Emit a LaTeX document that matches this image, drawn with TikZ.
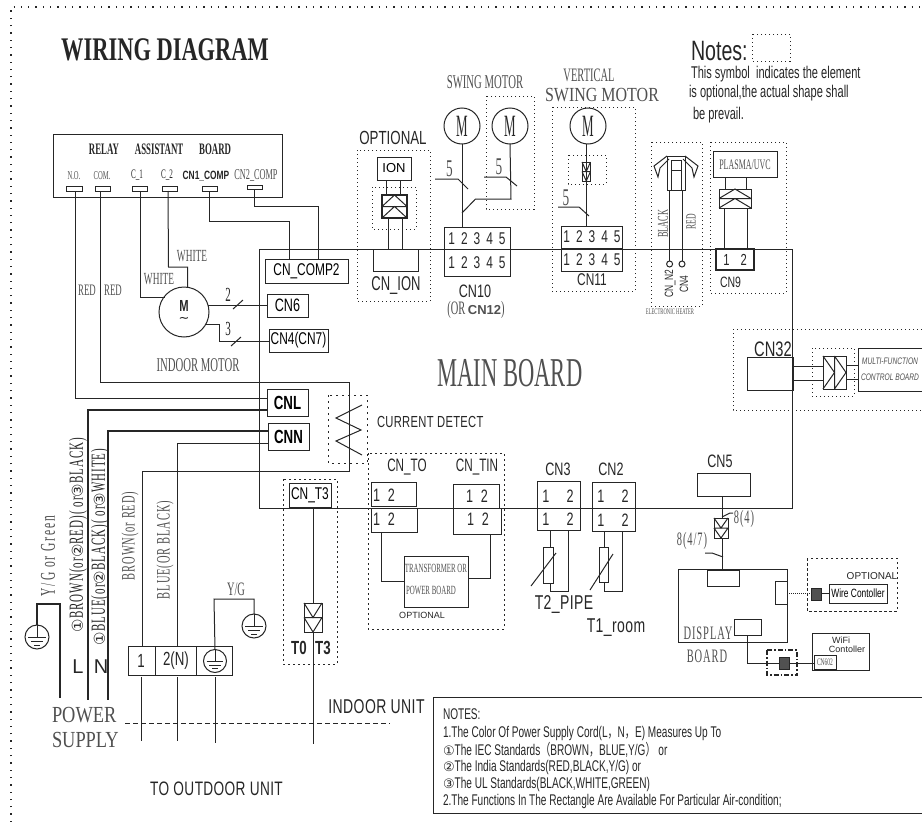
\documentclass[tikz,border=0pt]{standalone}
\usepackage{fontspec}
\newfontfamily\mo[FakeStretch=.55]{Liberation Serif}
\newfontfamily\mos[FakeStretch=.55,LetterSpace=9]{Liberation Serif}
\newfontfamily\mot[FakeStretch=.55,LetterSpace=5]{Liberation Serif}
\newfontfamily\mt[FakeStretch=.42]{Liberation Serif}
\newfontfamily\mow[FakeStretch=.8]{Liberation Serif}
\newfontfamily\ttl[FakeStretch=.68]{Liberation Serif}
\newfontfamily\sa{Liberation Sans}
\newfontfamily\san[FakeStretch=.7]{Liberation Sans}
\newfontfamily\sann[FakeStretch=.65]{Liberation Sans}
\newfontfamily\sal[FakeStretch=.7,LetterSpace=2]{Liberation Sans}
\newfontfamily\ci{DejaVu Sans}
\newfontfamily\cjk[FakeStretch=.65]{Noto Sans CJK SC}
\newcommand\fsz[1]{\fontsize{#1}{#1}\selectfont}
\definecolor{ink}{HTML}{262626}
\definecolor{gt}{HTML}{505050}
\usetikzlibrary{calc}
\tikzset{
 wire/.style={draw=ink,line width=1pt},
 fat/.style={draw=ink,line width=2pt},
 box/.style={draw=ink,line width=1pt,inner sep=0pt,outer sep=0pt,anchor=north west},
 opt/.style={draw=ink,line width=1pt,dash pattern=on 1pt off 3pt},
 txt/.style={inner sep=0pt,outer sep=0pt,text=ink},
 gtxt/.style={inner sep=0pt,outer sep=0pt,text=gt},
 ring/.style={draw=ink,line width=1pt,circle,inner sep=0pt,outer sep=0pt},
}
\newcommand\B[7][]{\node[box,minimum width={(#5-#3)*1pt},minimum height={(#6-#4)*1pt},#1] (#2) at (#3,#4) {#7};}
\newcommand\T[5][]{\node[txt,#1] (#2) at (#3,#4) {#5};}
\newcommand\G[5][]{\node[gtxt,#1] (#2) at (#3,#4) {#5};}
\newcommand\chevU[1]{\draw[wire] (#1.west)--(#1.east) (#1.west)--(#1.north)--(#1.east) (#1.south west)--(#1.center)--(#1.south east);}
\newcommand\chevD[1]{\draw[wire] (#1.west)--(#1.east) (#1.north west)--(#1.center)--(#1.north east) (#1.west)--(#1.south)--(#1.east);}
\newcommand\chevR[1]{\draw[wire] (#1.north)--(#1.south) (#1.north west)--(#1.center)--(#1.south west) (#1.north)--(#1.east)--(#1.south);}
\newcommand\EARTH[4]{\node[ring,minimum size=#4 pt] (#1) at (#2,#3) {};
 \draw[wire] (#1.north)--(#1.center);
 \draw[wire] ($(#1.center)+(-.36*#4,0)$)--($(#1.center)+(.36*#4,0)$);
 \draw[wire] ($(#1.center)+(-.24*#4,.18*#4)$)--($(#1.center)+(.24*#4,.18*#4)$);
 \draw[wire] ($(#1.center)+(-.12*#4,.34*#4)$)--($(#1.center)+(.12*#4,.34*#4)$);}
\begin{document}
\begin{tikzpicture}[x=1pt,y=-1pt]
\useasboundingbox (0,0) rectangle (922,822);
% page border
\coordinate (bl) at (11,822); \coordinate (tl) at (11,7); \coordinate (tr) at (922,7);
\draw[opt,line width=1.3pt,dash pattern=on 1.3pt off 6pt] (bl)--(tl)--(tr);
% titles
\T{title}{165}{50}{\ttl\bfseries\fsz{33}WIRING DIAGRAM}
\T[anchor=west]{notes}{691}{51}{\san\fsz{28}Notes:}
\T[anchor=west]{n1}{691}{74}{\sann\fsz{17}This symbol\ \ indicates the element}
\T[anchor=west]{n2}{689}{93}{\sann\fsz{17}is optional,the actual shape shall}
\T[anchor=west]{n3}{693}{115}{\sann\fsz{17}be prevail.}
\draw[opt] (752,34) rectangle (790,61);
% relay board
\B{relay}{53}{134}{282}{197}{}
\T{relayt}{160}{149}{\mo\bfseries\fsz{16}RELAY\quad ASSISTANT\quad BOARD}
\G{lno}{74}{176}{\mo\fsz{12}N.O.}
\G{lcom}{102}{176}{\mo\fsz{12}COM.}
\T{lc1}{137}{175}{\mo\fsz{13}C\_1}
\T{lc2}{167}{175}{\mo\fsz{13}C\_2}
\T{lcn1}{206}{176}{\san\bfseries\fsz{12}CN1\_COMP}
\G{lcn2}{256}{175}{\mo\fsz{15}CN2\_COMP}
\B{no}{66}{186}{82}{191}{}
\B{com}{95}{186}{110}{191}{}
\B{ca}{132}{186}{147}{191}{}
\B{cb}{162}{186}{177}{191}{}
\B{cna}{202}{186}{217}{191}{}
\B{cnb}{247}{185}{262}{189}{}
% main board
\B{main}{259}{249}{792}{508}{}
\G{mainl}{510}{373}{\mo\fsz{41}MAIN BOARD}
% main connectors
\B[font=\san\fsz{17}]{comp}{265}{259}{348}{283}{CN\_COMP2}
\B[font=\san\fsz{18}]{cnsix}{267}{294}{308}{317}{CN6}
\B[font=\san\fsz{17}]{cnfour}{269}{329}{328}{352}{CN4(CN7)}
\B[font=\san\bfseries\fsz{19}]{cnl}{267}{389}{308}{416}{CNL}
\B[font=\san\bfseries\fsz{19}]{cnn}{268}{423}{309}{450}{CNN}
% indoor motor
\node[ring,minimum size=50pt] (imot) at (184,312) {};
\T{imm}{184}{306}{\san\bfseries\fsz{16}M}
\T{imt}{184}{320}{\ci\fsz{13}∼}
\coordinate (im2) at (208,305); \coordinate (im3) at (206,324);
\coordinate (imc) at (165,297); \coordinate (imd) at (187.5,287);
\draw[wire] (im2)--(cnsix.west |- im2);
\draw[wire] (im3)-|(219,341)--(cnfour.west |- 219,341);
\draw[wire] (233,309)--(243,300) (231,346)--(241,337);
\T{lab2}{228}{295}{\mo\fsz{20}2}
\T{lab3}{228}{329}{\mo\fsz{20}3}
\G{lwa}{192}{256}{\mo\fsz{17}WHITE}
\G{lwb}{159}{279}{\mo\fsz{17}WHITE}
\G{lra}{87}{290}{\mo\fsz{16}RED}
\G{lrb}{113}{290}{\mo\fsz{16}RED}
\G{limo}{198}{365}{\mo\fsz{19.5}INDOOR MOTOR}
\draw[wire] (no.south -| 75,0)--(75,398)--(cnl.west |- 75,398);
\draw[wire] (com.south -| 100,0)--(100,382)-|(349,471)-|(142,646);
\draw[wire] (ca.south -| 140.5,0)|-(imc);
\draw[wire] (cb.south -| 168,0)--(168.5,267)-|(imd);
\draw[wire] (cna.south -| 209,0)--(209,221)-|(comp.north -| 289,0);
\draw[wire] (cnb.south -| 254,0)--(254,206)-|(comp.north -| 318,0);
% ION
\T{optl}{393}{138}{\san\fsz{19}OPTIONAL}
\draw[opt] (357,150) rectangle (430,301);
\B[font=\sa\fsz{13}]{ion}{377}{157}{411}{180}{ION}
\draw[opt] (372,187) rectangle (416,229);
\B[line width=1.6pt]{ionc}{382}{195}{407}{218}{}
\chevU{ionc}
\B{cnion}{373}{249}{418}{271}{}
\T{lion}{396}{286}{\sann\fsz{20}CN\_ION}
\draw[wire] (386,180)--(386,195) (400,180)--(400,195) (388,218)--(388,249) (402,218)--(402,249);
% swing motor
\G{lsw}{485}{82}{\mo\fsz{19.5}SWING MOTOR}
\node[ring,minimum size=36pt] (ma) at (462,126) {};
\node[ring,minimum size=36pt] (mb) at (510,126) {};
\T{mat}{462}{126}{\mt\fsz{31}M}
\T{mbt}{510}{126}{\mt\fsz{31}M}
\draw[opt] (486,96) rectangle (534,209);
\B{tena}{444}{227}{510}{249}{}
\B{tenb}{444}{249}{510}{276}{}
\T{tenat}{477}{239}{\san\fsz{17}1\hspace{6pt}2\hspace{6pt}3\hspace{6pt}4\hspace{6pt}5}
\T{tenbt}{477}{263}{\san\fsz{17}1\hspace{6pt}2\hspace{6pt}3\hspace{6pt}4\hspace{6pt}5}
\draw[wire] (ma.south)--(tena.north -| ma.south);
\draw[wire] (mb.south)--(511,199)--(475.5,199)--(462,213);
\G{lfa}{449.5}{169}{\mo\fsz{24}5}
\G{lfb}{499}{167}{\mo\fsz{24}5}
\draw[wire] (435,179)--(458,179)--(468,189);
\draw[wire] (484,177)--(506,177)--(517,186);
\T{lcten}{475}{291}{\san\fsz{18}CN10}
\G{lcor}{476}{310}{\mo\fsz{19}(OR {\sa\bfseries\fsz{13}CN12})}
% vertical swing
\G{lve}{589}{75}{\mo\fsz{19}VERTICAL}
\G{lvs}{602}{95}{\mow\fsz{20}SWING MOTOR}
\draw[opt] (552,107) rectangle (635,291);
\node[ring,minimum size=36pt] (mc) at (588,126) {};
\T{mct}{588}{126}{\mt\fsz{31}M}
\draw[opt] (568,155) rectangle (606,184);
\B{vc}{582}{162}{590.5}{181}{}
\chevD{vc}
\B{ela}{561}{226}{622}{248}{}
\B{elb}{561}{248}{622}{271}{}
\T{elat}{592}{237}{\san\fsz{17}1\hspace{6pt}2\hspace{6pt}3\hspace{6pt}4\hspace{6pt}5}
\T{elbt}{592}{260}{\san\fsz{17}1\hspace{6pt}2\hspace{6pt}3\hspace{6pt}4\hspace{6pt}5}
\T{lcel}{592}{280}{\san\fsz{17}CN11}
\draw[wire] (586.5,144)--(586.5,226);
\G{lfc}{566}{198}{\mo\fsz{24}5}
\draw[wire] (558,207)--(579,207)--(589,216);
% heater
\draw[opt] (651,142) rectangle (702,306);
\draw[wire] (667,190)--(667,156)--(685,156)--(685,190)--cycle;
\draw[wire] (671.5,190)--(671.5,160)--(681,160)--(681,190);
\draw[wire] (671.5,170)--(681,170);
\draw[wire] (667,156)--(654,166)--(658,177)--(660,168)--(669,159);
\draw[wire] (685,156)--(698,166)--(694,177)--(692,168)--(683,159);
\node[ring,minimum size=6pt] (hn) at (669.6,264) {};
\node[ring,minimum size=6pt] (hf) at (682,264) {};
\draw[wire] (669.6,190)--(hn.north);
\draw[wire] (682,190)--(hf.north);
\G[rotate=90]{lblk}{663}{224}{\mo\fsz{15}BLACK}
\G[rotate=90]{lred}{691}{222}{\mo\fsz{14}RED}
\T[rotate=90]{lcn}{670}{284}{\san\fsz{12}CN\_N2}
\T[rotate=90]{lfo}{684}{284}{\san\fsz{12}CN4}
\G{lhe}{670}{312}{\mo\fsz{8.5}ELECTRONIC HEATER}
% plasma
\draw[opt] (710,142) rectangle (786,293);
\B{pl}{713}{151}{777}{177}{}
\G{plt}{745}{165}{\mo\fsz{14.5}PLASMA/UVC}
\B{plc}{719}{189}{751}{208}{}
\chevU{plc}
\draw[wire] (725,177)--(725,189) (746.5,177)--(746.5,189) (724,208)--(724,249) (747.5,208)--(747.5,249);
\B[line width=1.5pt]{cnine}{716}{249}{754}{270}{}
\T{cninet}{735}{260}{\san\fsz{16}1\hspace{11pt}2}
\T{lcn9}{730.5}{282}{\san\fsz{15}CN9}
% CN32
\draw[opt] (733,329)--(922,329) (733,329)--(733,410)--(922,410);
\B{cnth}{747}{357}{793}{390}{}
\T{lcth}{773}{349}{\san\fsz{21}CN32}
\draw[opt] (812,348) rectangle (854,396);
\B{mfc}{823}{356}{846}{389}{}
\chevR{mfc}
\draw[wire] (793,366)--(823,366) (793,380)--(823,380) (846,365)--(858,365) (846,379)--(858,379);
\B{mfb}{858}{348}{923}{391}{}
\G{mfa}{890}{361}{\san\itshape\fsz{9.5}MULTI-FUNCTION}
\G{mfd}{890}{377}{\san\itshape\fsz{9.5}CONTROL BOARD}
% CN5 and display
\T{lcf}{720}{461}{\san\fsz{18}CN5}
\B{cnf}{697}{473}{750}{496}{}
\B{dc}{714}{518}{728}{538}{}
\chevD{dc}
\B{disp}{678}{569}{787}{642}{}
\B{da}{707}{570}{739}{586}{}
\B{db}{775}{581}{787}{604}{}
\B{dd}{734}{619}{761}{635}{}
\draw[wire] (722,496)--(722,518);
\draw[wire] (722,538)--(722,569);
\draw[wire] (722,517)--(730,513)--(733,513);
\draw[wire] (705,553)--(712,553)--(723,557);
\G{leia}{744}{519}{\mot\fsz{19}8(4)}
\G{leib}{692}{541}{\mot\fsz{19}8(4/7)}
\G{ldis}{708}{633}{\mot\fsz{19}DISPLAY}
\G{lboa}{707}{656}{\mot\fsz{19}BOARD}
\draw[opt,dash pattern=on 2.5pt off 2.5pt] (807,558) rectangle (897,611);
\T{lop}{872}{576}{\sa\fsz{10}OPTIONAL}
\B[fill=ink!80]{wc}{811}{588}{821}{600}{}
\B[font=\san\fsz{12}]{wcb}{829}{584}{887}{603}{Wire Contoller}
\draw[wire,dash pattern=on 1pt off 1pt] (787,593)--(811,593);
\draw[wire] (821,593)--(829,593);
\draw[wire,dash pattern=on 5pt off 2pt on 1.5pt off 2pt,line width=1.2pt] (767,650) rectangle (797,675);
\B[fill=ink!80]{wfc}{779}{657}{789}{669}{}
\B{wf}{812}{633}{869}{670}{}
\B{cnsx}{814}{655}{836}{669}{}
\G{lcs}{825}{662}{\mo\fsz{10}CN602}
\T{lwf}{841}{640}{\sa\fsz{9}WiFi}
\T{lwcn}{847}{649}{\sa\fsz{9}Contoller}
\draw[wire] (747,635)--(747,663)--(779,663);
\draw[wire] (789,663)--(814,663);
% current detect
\draw[opt,dash pattern=on 2pt off 4pt] (328,395) rectangle (367,463);
\draw[wire] (362,405)--(336,418)--(361,430)--(336,441)--(362,455);
\T[anchor=west]{lcd}{377}{422}{\sal\fsz{16}CURRENT DETECT}
% T3
\draw[opt,dash pattern=on 2pt off 3pt] (283,479) rectangle (337,664);
\B[font=\san\fsz{17}]{cnt}{289}{483}{331}{507}{CN\_T3}
\B{ttc}{304}{603}{322}{632}{}
\chevD{ttc}
\coordinate (ttend) at (313,744);
\draw[wire] (313,507)--(313,603);
\draw[wire] (313,632)--(ttend);
\T{ltz}{299}{648}{\san\bfseries\fsz{19}T0}
\T{ltt}{323}{648}{\san\bfseries\fsz{19}T3}
% CN_TO group
\draw[opt,dash pattern=on 2pt off 3pt] (368,453) rectangle (504,629);
\T{lcto}{407}{467}{\sann\fsz{18}CN\_TO}
\T{lcti}{477}{467}{\sann\fsz{18}CN\_TIN}
\B{toa}{371}{482}{416}{506}{}
\B{tob}{371}{508}{417}{532}{}
\B{tia}{453}{484}{499}{508}{}
\B{tib}{453}{508}{501}{534}{}
\T[anchor=west]{toat}{373}{495}{\san\fsz{18}1\hspace{8pt}2}
\T[anchor=west]{tobt}{373}{519}{\san\fsz{18}1\hspace{8pt}2}
\T[anchor=west]{tiat}{466}{496}{\san\fsz{18}1\hspace{8pt}2}
\T[anchor=west]{tibt}{467}{519}{\san\fsz{18}1\hspace{8pt}2}
\B{trb}{404}{556}{468}{607}{}
\G{trl}{436}{568}{\mo\fsz{12.5}TRANSFORMER OR}
\G[anchor=west]{trm}{406}{590}{\mo\fsz{12.5}POWER BOARD}
\T{top}{422}{615}{\sa\fsz{9}OPTIONAL}
\draw[wire] (381,532)--(381,581)--(trb.west |- 381,581);
\draw[wire] (trb.east |- 490,578)--(490,578)--(490,534);
% CN3 CN2
\T{lct}{558}{469}{\san\fsz{18}CN3}
\T{lcw}{611}{469}{\san\fsz{18}CN2}
\B{cta}{537}{481}{580}{508}{}
\B{ctb}{537}{508}{580}{530}{}
\B{cwa}{592}{482}{635}{508}{}
\B{cwb}{592}{508}{635}{531}{}
\T{ctat}{558}{496}{\san\fsz{18}1\hspace{17pt}2}
\T{ctbt}{558}{519}{\san\fsz{18}1\hspace{17pt}2}
\T{cwat}{613}{496}{\san\fsz{18}1\hspace{17pt}2}
\T{cwbt}{613}{520}{\san\fsz{18}1\hspace{17pt}2}
\B{rt}{543}{547}{553}{583}{}
\B{rw}{599}{547}{608}{582}{}
\draw[wire] (550,530)--(550,547) (550,583)--(550,591)-|(568,530);
\draw[wire] (604,531)--(604,547) (604,582)--(604,591)-|(622,531);
\draw[wire] (531,586)--(556,553) (590,590)--(613,554);
\T{ltp}{564}{604}{\sal\fsz{20}T2\_PIPE}
\T{ltr}{616}{628}{\sal\fsz{20}T1\_room}
% power lines
\draw[wire] (cnn.west |- 177,443)--(177,443)--(177,646);
\draw[fat] (cnl.west |- 88,410)--(88,410)--(88,700);
\draw[fat] (cnn.west |- 108,431)--(108,431)--(108,700);
\B{tm}{128}{646}{155}{675}{}
\B{tn}{155}{646}{196}{675}{}
\B{te}{196}{646}{232}{675}{}
\T{tmt}{141}{661}{\san\fsz{19}1}
\T{tnt}{176}{661}{\san\fsz{19}2(N)}
\EARTH{ea}{215}{661}{23}
\EARTH{eb}{254}{626}{24}
\EARTH{ec}{37}{637}{24}
\draw[wire] (ea.north)--(214,599)-|(eb.north);
\draw[fat] (ec.north)--(37,604)--(59.5,604)--(59.5,698);
\coordinate (ta) at (141.5,741); \coordinate (tb) at (177,741); \coordinate (tc) at (215,743);
\draw[wire] (141.5,677)--(ta) (177,677)--(tb) (215,677)--(tc);
\G{lyg}{236}{589}{\mo\fsz{19}Y/G}
\G[rotate=90]{lgr}{48}{556}{\mos\fsz{21}Y/G or Green}
\T[rotate=90]{lbr}{78}{535}{\mot\fsz{20}{\ci\fsz{15}①}BROWN(or{\ci\fsz{15}②}RED)( or{\ci\fsz{15}③}BLACK)}
\T[rotate=90]{lbl}{100}{547}{\mot\fsz{20}{\ci\fsz{15}①}BLUE(or{\ci\fsz{15}②}BLACK)( or{\ci\fsz{15}③}WHITE)}
\G[rotate=90]{lbn}{130}{536}{\mot\fsz{19}BROWN(or RED)}
\G[rotate=90]{lbb}{165}{550}{\mot\fsz{19}BLUE(OR BLACK)}
\T{ll}{78}{667}{\sa\fsz{20}L}
\T{ln}{101}{667}{\sa\fsz{20}N}
\G[anchor=west]{lps}{52}{715}{\mow\fsz{23}POWER}
\G[anchor=west]{lsp}{52}{740}{\mow\fsz{23}SUPPLY}
\coordinate (da) at (125,723); \coordinate (db) at (390,723);
\draw[wire,dash pattern=on 5pt off 3pt] (da)--(db);
\T{liu}{376.5}{707}{\sal\fsz{20}INDOOR UNIT}
\T{lou}{216.5}{789}{\sal\fsz{19.5}TO OUTDOOR UNIT}
% notes box
\B{nbox}{433}{697}{923}{813}{}
\T[anchor=west]{na}{443}{714}{\sann\fsz{15.5}NOTES:}
\T[anchor=west]{nb}{443}{733}{\sann\fsz{15.5}1.The Color Of Power Supply Cord(L{\cjk ，}N{\cjk ，}E) Measures Up To}
\T[anchor=west]{nc}{443}{750}{\sann\fsz{15.5}{\ci\fsz{13}①}The IEC Standards{\cjk （}BROWN{\cjk ，}BLUE,Y/G{\cjk ）} or}
\T[anchor=west]{nd}{443}{767}{\sann\fsz{15.5}{\ci\fsz{13}②}The India Standards(RED,BLACK,Y/G) or}
\T[anchor=west]{ne}{443}{784}{\sann\fsz{15.5}{\ci\fsz{13}③}The UL Standards(BLACK,WHITE,GREEN)}
\T[anchor=west]{nf}{443}{801}{\sann\fsz{15.5}2.The Functions In The Rectangle Are Available For Particular Air-condition;}
\end{tikzpicture}
\end{document}
